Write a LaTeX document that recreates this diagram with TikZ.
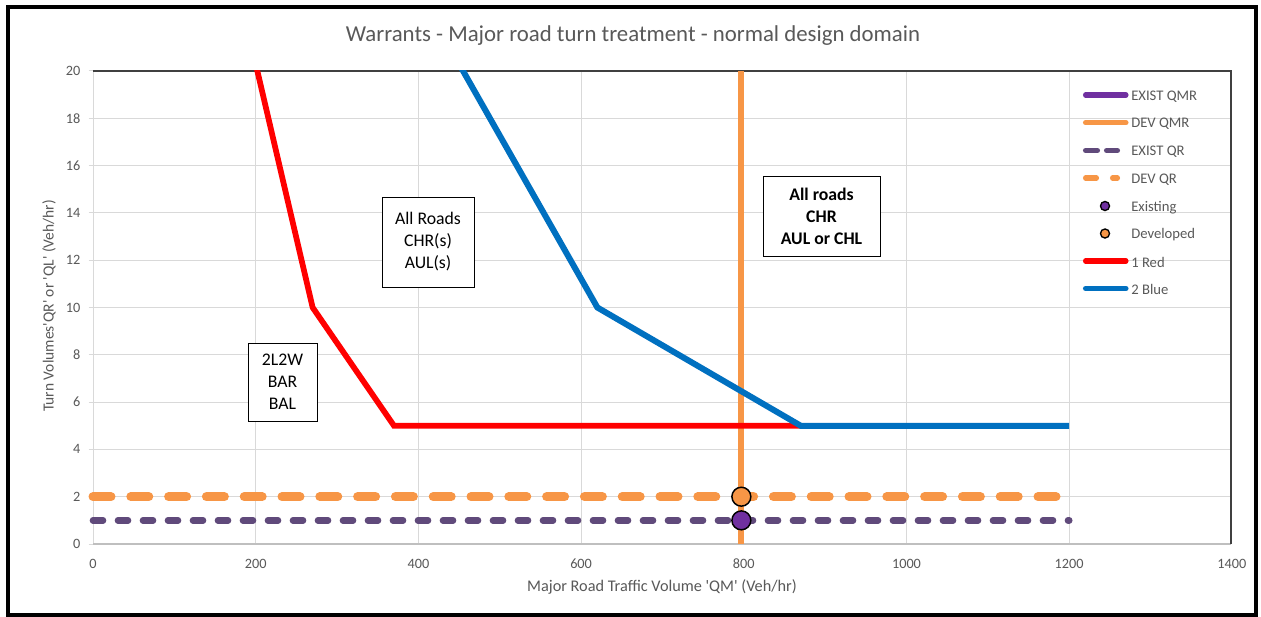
\documentclass[tikz,border=0pt]{standalone}
\usepackage{fontspec}
\setmainfont{Carlito}
\definecolor{gridc}{HTML}{D9D9D9}
\definecolor{axisc}{HTML}{BFBFBF}
\definecolor{txt}{HTML}{595959}
\definecolor{framec}{HTML}{404040}
\definecolor{cred}{HTML}{FF0000}
\definecolor{cblue}{HTML}{0070C0}
\definecolor{corange}{HTML}{F79646}
\definecolor{cpurple}{HTML}{7030A0}
\definecolor{cpurpled}{HTML}{604A7B}
\tikzset{
  gridline/.style={gridc, line width=0.75pt},
  ticklbl/.style={txt, font=\fontsize{10.7}{13}\selectfont, inner sep=0pt},
  legtxt/.style={txt, font=\fontsize{11}{13}\selectfont, anchor=west, inner sep=0pt, yshift=-1pt},
  labelbox/.style={draw=black, line width=0.75pt, fill=white, align=center,
    font=\fontsize{13.3}{16.5}\selectfont, inner sep=0pt},
  redline/.style={cred, line width=4.3pt},
  blueline/.style={cblue, line width=4.5pt},
  devqmr/.style={corange, line width=4.7pt},
  devqr/.style={corange, line width=6.75pt, line cap=round, dash pattern=on 13.5pt off 14.85pt},
  existqr/.style={cpurpled, line width=5pt, line cap=round, dash pattern=on 7.5pt off 11.25pt},
  marker/.style={draw=black, line width=1.1pt},
}
\newcommand{\sq}{\textquotesingle}
\begin{document}
\begin{tikzpicture}[x=0.75pt,y=-0.75pt]
\useasboundingbox (0,0) rectangle (1261,617);
\fill[white] (0,0) rectangle (1261,617);
\draw[line width=3pt] (7.5,7) rectangle (1255.5,614.5);

\node[txt, font=\fontsize{17.1}{20}\selectfont] (title) at (633,36)
  {Warrants - Major road turn treatment - normal design domain};

% gridlines
\foreach \i in {1,...,6} \draw[gridline] ({93+162.7*\i},71) -- ({93+162.7*\i},544);
\foreach \j in {1,...,9} \draw[gridline] (93,{544-47.3*\j}) -- (1231,{544-47.3*\j});
% axes
\draw[gridline] (93,71) -- (93,544);
\foreach \j in {0,...,10} \draw[gridline] (88.5,{544-47.3*\j}) -- (93,{544-47.3*\j});
\draw[axisc, line width=0.9pt] (93,544) -- (1231,544);
\draw[framec, line width=1.2pt] (93,71) -- (1231,71) -- (1231,544.4);

% tick labels
\foreach \j in {0,...,10} {
  \pgfmathtruncatemacro{\v}{2*\j}
  \node[ticklbl, anchor=east] (yl\j) at (80.5,{544-47.3*\j}) {\v};
}
\foreach \i in {0,...,7} {
  \pgfmathtruncatemacro{\v}{200*\i}
  \node[ticklbl] (xl\i) at ({93+162.7*\i},563.5) {\v};
}
\node[txt, font=\fontsize{12.2}{14}\selectfont] (xtitle) at (662,587)
  {Major Road Traffic Volume \sq QM\sq{} (Veh/hr)};
\node[txt, font=\fontsize{11.6}{14}\selectfont, rotate=90] (ytitle) at (49,306)
  {Turn Volumes\sq QR\sq{} or \sq QL\sq{} (Veh/hr)};

% data
\begin{scope}[shift={(93,544)}, x=0.610125pt, y=17.7375pt]
  \draw[devqmr] (797,0) -- (797,20);
  \draw[existqr] (0,1) -- (1200,1);
  \draw[devqr] (0,2) -- (1200,2);
  \begin{scope}
    \clip (0,0) rectangle (1400,20);
    \draw[redline] (200,20.3) -- (270,10) -- (370,5) -- (870,5);
    \draw[blueline] (450,20.3) -- (620,10) -- (870,5) -- (1200,5);
  \end{scope}
  \draw[marker, fill=corange] (797,2) circle[radius=7.1pt];
  \draw[marker, fill=cpurple] (797,1) circle[radius=7.1pt];
\end{scope}

% label boxes
\node[labelbox, minimum width=51.75pt, minimum height=58.5pt] (b1) at (282.5,382) {2L2W\\BAR\\BAL};
\node[labelbox, minimum width=69pt, minimum height=67.5pt] (b2) at (428,242) {All Roads\\CHR(s)\\AUL(s)};
\node[labelbox, minimum width=87.75pt, minimum height=60pt, font=\fontsize{13.3}{16.5}\selectfont\bfseries] (b3) at (821.5,216) {All roads\\CHR\\AUL or CHL};

% legend
\draw[cpurple, line width=3.8pt, line cap=round] (1085.5,95) -- (1126,95);
\node[legtxt] (l1) at (1131,95) {EXIST QMR};
\draw[corange, line width=3.8pt, line cap=round] (1085.5,122.7) -- (1126,122.7);
\node[legtxt] (l2) at (1131,122.7) {DEV QMR};
\draw[cpurpled, line width=3.8pt, line cap=round] (1085.5,150.5) -- (1097.5,150.5) (1106.5,150.5) -- (1117.5,150.5);
\node[legtxt] (l3) at (1131,150.5) {EXIST QR};
\draw[corange, line width=3.8pt, line cap=round] (1085.5,178) -- (1096.5,178) (1112.5,178) -- (1117.5,178);
\node[legtxt] (l4) at (1131,178) {DEV QR};
\draw[marker, line width=1pt, fill=cpurple] (1105,206) circle[radius=3.4pt];
\node[legtxt] (l5) at (1131,206) {Existing};
\draw[marker, line width=1pt, fill=corange] (1105,233.5) circle[radius=3.4pt];
\node[legtxt] (l6) at (1131,233.5) {Developed};
\draw[cred, line width=3.8pt, line cap=round] (1085.5,261) -- (1126,261);
\node[legtxt] (l7) at (1131,261) {1 Red};
\draw[cblue, line width=3.8pt, line cap=round] (1085.5,288.5) -- (1126,288.5);
\node[legtxt] (l8) at (1131,288.5) {2 Blue};
\end{tikzpicture}
\end{document}
